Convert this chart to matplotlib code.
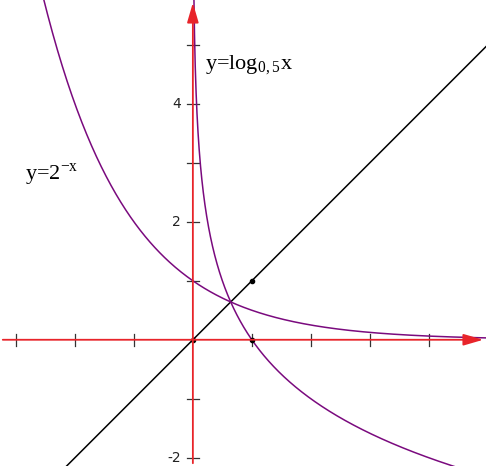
import numpy as np
import matplotlib
matplotlib.use("Agg")
import matplotlib.pyplot as plt
plt.rcParams["mathtext.fontset"] = "stix"

xmin, xmax, ymin, ymax = -3.27, 4.97, -2.14, 5.76
xticks = [-3, -2, -1, 1, 2, 3, 4]
yticks = [-2, -1, 1, 2, 3, 4, 5]
ylabels = {2: "2", 4: "4", -2: "-2"}
points = [(0, 0), (1, 0), (1, 1)]

fig = plt.figure(figsize=(4.86, 4.66), dpi=100)
ax = fig.add_axes([0, 0, 1, 1])
ax.set_xlim(xmin, xmax); ax.set_ylim(ymin, ymax)
ax.axis("off")

red = "#e8242a"; purple = "#7a0a7e"
ax.annotate("", xy=(xmax, 0), xytext=(xmin, 0),
            arrowprops=dict(arrowstyle="-|>,head_length=1.2,head_width=0.35", color=red, lw=1.3))
ax.annotate("", xy=(0, ymax), xytext=(0, ymin),
            arrowprops=dict(arrowstyle="-|>,head_length=1.2,head_width=0.35", color=red, lw=1.3))
for t in xticks:
    ax.plot([t, t], [-0.1, 0.1], color="#333333", lw=0.9)
for t in yticks:
    ax.plot([-0.1, 0.1], [t, t], color="#333333", lw=0.9)
    if t in ylabels:
        ax.text(-0.2, t, ylabels[t], ha="right", va="center", fontsize=10, color="#222222")

x = np.linspace(xmin, xmax, 500)
ax.plot(x, x, color="black", lw=1.1)
ax.plot(x, 2.0 ** (-x), color=purple, lw=1.1)
xl = np.linspace(0.003, xmax, 2000)
ax.plot(xl, np.log(xl) / np.log(0.5), color=purple, lw=1.1)
for px, py in points:
    ax.plot(px, py, "o", color="black", ms=3)

ax.text(0.2, 4.6, r"y=log$_{\mathregular{0,5}}$x", fontsize=16, family="Liberation Serif")
ax.text(-2.85, 2.72, r"y=2$^{\mathregular{-x}}$", fontsize=16, family="Liberation Serif")
fig.savefig("out.png", dpi=100)
